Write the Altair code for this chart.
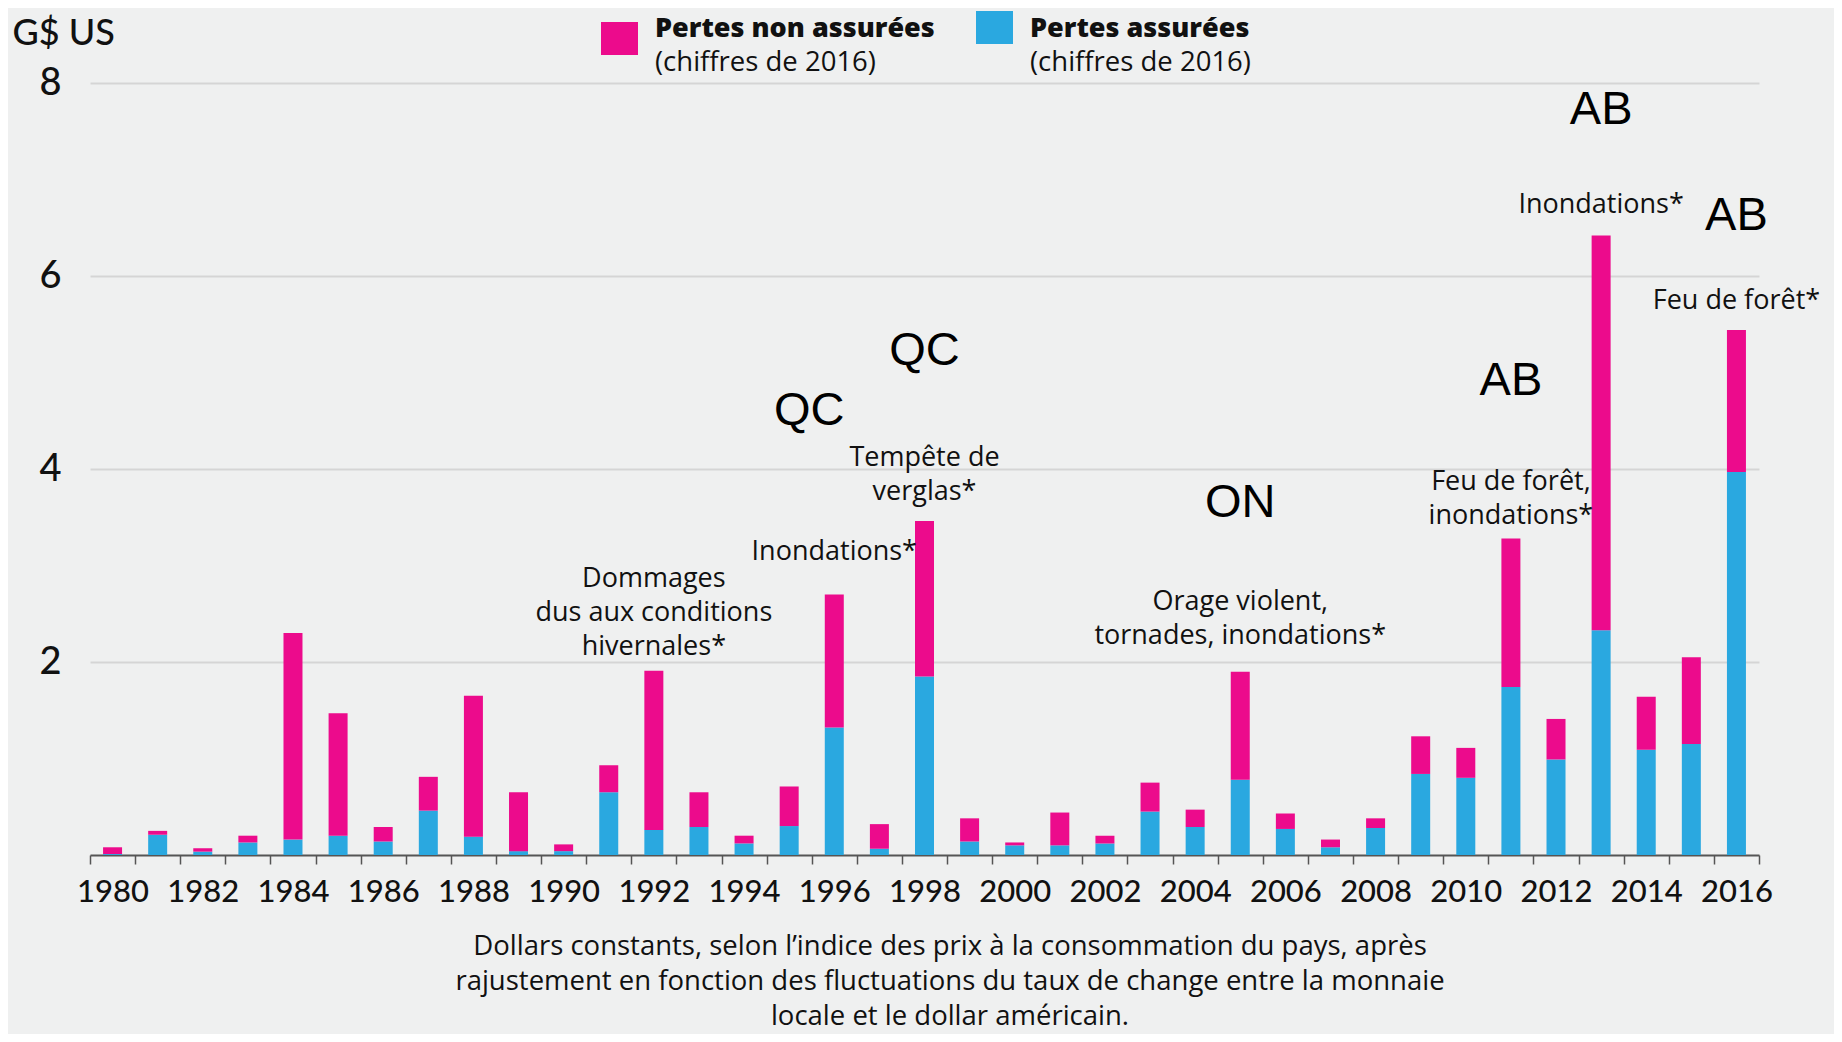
import altair as alt
import pandas as pd

# ---------------- data ----------------
years = list(range(1980, 2017))
insured = [0.01, 0.21, 0.035, 0.13, 0.16, 0.20, 0.14, 0.46, 0.19, 0.04,
           0.04, 0.65, 0.26, 0.29, 0.12, 0.30, 1.32, 0.065, 1.85, 0.14,
           0.10, 0.10, 0.12, 0.45, 0.29, 0.78, 0.27, 0.08, 0.28, 0.84,
           0.80, 1.74, 0.99, 2.33, 1.09, 1.15, 3.97]
uninsured = [0.07, 0.04, 0.035, 0.07, 2.14, 1.27, 0.15, 0.35, 1.46, 0.61,
             0.07, 0.28, 1.65, 0.36, 0.08, 0.41, 1.38, 0.255, 1.61, 0.24,
             0.03, 0.34, 0.08, 0.30, 0.18, 1.12, 0.16, 0.08, 0.10, 0.39,
             0.31, 1.54, 0.42, 4.09, 0.55, 0.90, 1.47]

series_names = ["Pertes non assurées", "Pertes assurées"]
series_sub = "(chiffres de 2016)"

ann_years = [1992, 1996, 1998, 2005, 2011, 2013, 2016]
ann_text = ["Dommages\ndus aux conditions\nhivernales*", "Inondations*",
            "Tempête de\nverglas*", "Orage violent,\ntornades, inondations*",
            "Feu de forêt,\ninondations*", "Inondations*", "Feu de forêt*"]
ann_y = [2.86, 3.14, 4.11, 2.62, 3.87, 6.74, 5.74]

prov_years = [1996, 1998, 2005, 2011, 2013, 2016]
prov_text = ["QC", "QC", "ON", "AB", "AB", "AB"]
prov_y = [4.60, 5.22, 3.65, 4.91, 7.72, 6.62]

y_ticks = [2, 4, 6, 8]
footer = ["Dollars constants, selon l’indice des prix à la consommation du pays, après",
          "rajustement en fonction des fluctuations du taux de change entre la monnaie",
          "locale et le dollar américain."]

# ---------------- styles ----------------
PINK = "#EC0B8C"
BLUE = "#2AA8E0"
BG = "#EFF0F0"
FONT = "Lato"
TFONT = "Open Sans"

rows = []
for yr, a, b in zip(years, insured, uninsured):
    rows.append({"year": yr, "type": series_names[1], "value": a, "rank": 0})
    rows.append({"year": yr, "type": series_names[0], "value": b, "rank": 1})
df = pd.DataFrame(rows)

ann_df = pd.DataFrame({"year": ann_years, "text": ann_text, "value": ann_y})
prov_df = pd.DataFrame({"year": prov_years, "text": prov_text, "value": prov_y})
one = pd.DataFrame({"k": [0]})

x_scale = alt.Scale(paddingInner=0, paddingOuter=0)
y_scale = alt.Scale(domain=[0, 8], nice=False, zero=True)

x_axis = alt.Axis(
    title=None, labelAngle=0, labelExpr="datum.value % 2 == 0 ? datum.label : ''",
    labelFont=FONT, labelFontSize=31, labelFontWeight=500, labelColor="#111",
    labelPadding=13, labelOverlap=False, tickBand="extent", tickSize=9,
    tickColor="#555", tickWidth=1.5, domainColor="#555", domainWidth=2, grid=False)
y_axis = alt.Axis(
    values=y_ticks, title="G$ US", titleAngle=0, titleAlign="left",
    titleBaseline="middle", titleX=-78, titleY=-50, titleFont=FONT,
    titleFontSize=36, titleFontWeight=500, titleColor="#111",
    labelFont=FONT, labelFontSize=38, labelFontWeight=500, labelColor="#111",
    labelPadding=29, ticks=False, tickSize=0, domain=False, grid=True,
    gridColor="#D5D5D5", gridWidth=2)

X = alt.X("year:O", scale=x_scale, axis=x_axis)
Y = alt.Y("value:Q", scale=y_scale, axis=y_axis)

bars = alt.Chart(df).mark_bar(size=19).encode(
    x=X,
    y=alt.Y("value:Q", stack="zero", scale=y_scale, axis=y_axis),
    color=alt.Color("type:N", scale=alt.Scale(domain=series_names, range=[PINK, BLUE]), legend=None),
    order=alt.Order("rank:Q", sort="ascending"),
)

ann = alt.Chart(ann_df).mark_text(
    font=TFONT, fontSize=27, color="#111", lineBreak="\n",
    lineHeight=34, align="center", baseline="middle"
).encode(x=X, y=Y, text="text:N")

prov_style = dict(font="Liberation Sans", fontSize=47, color="#000", align="center", baseline="middle")
prov = alt.Chart(prov_df).transform_filter("datum.year != 1996").mark_text(**prov_style).encode(
    x=X, y=Y, text="text:N")
prov_qc = alt.Chart(prov_df).transform_filter("datum.year == 1996").mark_text(dx=-25, **prov_style).encode(
    x=X, y=Y, text="text:N")

# legend (drawn as layered marks)
leg_pink = alt.Chart(one).mark_rect(color=PINK).encode(
    x=alt.value(511), x2=alt.value(548), y=alt.value(-61), y2=alt.value(-28))
leg_blue = alt.Chart(one).mark_rect(color=BLUE).encode(
    x=alt.value(886), x2=alt.value(923), y=alt.value(-72), y2=alt.value(-39))
bold_style = dict(font=TFONT, fontSize=27, fontWeight=800, color="#111", align="left", baseline="middle")
sub_style = dict(font=TFONT, fontSize=27.5, fontWeight=500, color="#111", align="left", baseline="middle")
leg_t1 = alt.Chart(one).mark_text(text=series_names[0], **bold_style).encode(
    x=alt.value(565), y=alt.value(-54))
leg_t1b = alt.Chart(one).mark_text(text=series_sub, **sub_style).encode(
    x=alt.value(565), y=alt.value(-20))
leg_t2 = alt.Chart(one).mark_text(text=series_names[1], **bold_style).encode(
    x=alt.value(940), y=alt.value(-54))
leg_t2b = alt.Chart(one).mark_text(text=series_sub, **sub_style).encode(
    x=alt.value(940), y=alt.value(-20))

foot = alt.Chart(one).mark_text(text=footer, font=TFONT, fontSize=27.5, fontWeight=500, color="#111",
                                align="center", baseline="middle", lineHeight=35).encode(
    x=alt.value(860), y=alt.value(864))

chart = alt.layer(bars, ann, prov, prov_qc, leg_pink, leg_blue, leg_t1, leg_t1b, leg_t2, leg_t2b, foot).properties(
    width=1669, height=772,
    autosize=alt.AutoSizeParams(type="none"),
    padding={"left": 82, "top": 75, "right": 75, "bottom": 179},
    background=BG,
).configure_view(stroke=None)

chart.save("out.html", embed_options={"renderer": "svg", "actions": False})
